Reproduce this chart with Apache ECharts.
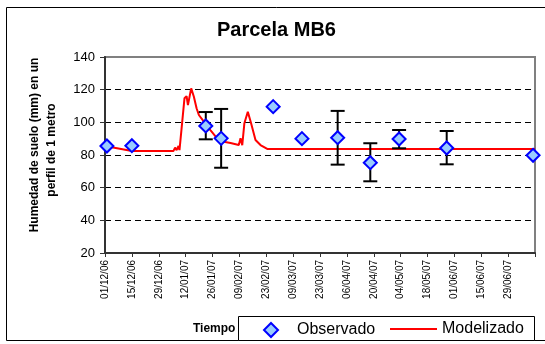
<!DOCTYPE html>
<html>
<head>
<meta charset="utf-8">
<script src="https://cdn.jsdelivr.net/npm/echarts@6/dist/echarts.min.js"></script>
<style>
  html, body { margin: 0; padding: 0; background: #fff; }
  #chart { width: 545px; height: 344px; }
</style>
</head>
<body>
<div id="chart"></div>
<script>
// days counted from 01/12/06, one tick every 14 days
const tickLabels = ['01/12/06', '15/12/06', '29/12/06', '12/01/07', '26/01/07', '09/02/07',
  '23/02/07', '09/03/07', '23/03/07', '06/04/07', '20/04/07', '04/05/07', '18/05/07',
  '01/06/07', '15/06/07', '29/06/07', ''];

const obsDays = [1, 14, 52.5, 60.5, 87.6, 102.6, 121.2, 138.2, 153.2, 178, 223];
const obsValues = [85.5, 85.7, 97.8, 90.2, 109.6, 90, 90.6, 75.3, 89.8, 84.3, 79.8];
const obsLow = [null, null, 89.6, 72.2, null, null, 74.1, 63.9, 84.1, 74.3, null];
const obsHigh = [null, null, 106.3, 108.2, null, null, 107, 87.2, 95.3, 94.7, null];

const modelDays = [0, 7, 14, 20, 30, 35.7, 36.5, 37.3, 38.3, 38.8, 39.4, 40.2, 41.4, 42.5,
  43.2, 44.9, 46.3, 47.7, 48.9, 51.5, 54.9, 58.4, 61.9, 65.4, 69.7, 70.6, 71.5, 72.6, 74.4,
  76.1, 78.4, 81, 84.5, 120, 170, 224];
const modelValues = [85.5, 84, 82.5, 82.5, 82.5, 82.5, 84.5, 83, 85.5, 83, 84, 100, 114.7, 116,
  110.6, 120.8, 115.7, 108.6, 104.5, 100.4, 95.3, 90.2, 88.1, 87.3, 86.1, 90.2, 86, 99.4, 106.5,
  99.4, 89.2, 86.1, 83.7, 83.7, 83.7, 83.7];

const font = "'Liberation Sans', Arial, sans-serif";

const obsData = obsDays.map((d, i) => [d, obsValues[i]]);
const modelData = modelDays.map((d, i) => [d, modelValues[i]]);
const errData = [];
obsDays.forEach((d, i) => {
  if (obsLow[i] != null) errData.push([d, obsLow[i], obsHigh[i]]);
});

const chart = echarts.init(document.getElementById('chart'), null, {renderer: 'canvas'});
const option = {
  backgroundColor: '#ffffff',
  animation: false,
  title: {
    text: 'Parcela MB6',
    left: 217,
    top: 20,
    padding: 0,
    textStyle: {fontFamily: font, fontSize: 20, fontWeight: 'bold', color: '#000'}
  },
  grid: {
    left: 105, right: 10, top: 57, bottom: 91,
    show: true, borderColor: '#808080', borderWidth: 2
  },
  legend: [
    {
      data: ['Observado'],
      left: 263, top: 322, padding: 0,
      itemWidth: 14, itemHeight: 14,
      textStyle: {fontFamily: font, fontSize: 16, color: '#000', padding: [0, 0, 0, 14]}
    },
    {
      data: [{name: 'Modelizado', icon: 'rect'}],
      left: 390, top: 321, padding: 0,
      itemWidth: 47, itemHeight: 2,
      textStyle: {fontFamily: font, fontSize: 16, color: '#000'}
    }
  ],
  xAxis: {
    type: 'value',
    min: 0, max: 224, interval: 14,
    axisLine: {lineStyle: {color: '#333', width: 2}},
    axisTick: {length: 4, lineStyle: {color: '#333', width: 1}},
    axisLabel: {
      rotate: 90, fontFamily: font, fontSize: 10, color: '#000', margin: 7,
      showMaxLabel: true,
      formatter: v => tickLabels[Math.round(v / 14)] || ''
    },
    splitLine: {show: false}
  },
  yAxis: {
    type: 'value',
    min: 20, max: 140, interval: 20,
    axisLine: {show: true, lineStyle: {color: '#333', width: 2}},
    axisTick: {show: true, length: 5, lineStyle: {color: '#333', width: 1}},
    axisLabel: {fontFamily: font, fontSize: 13, color: '#000', margin: 10},
    splitLine: {
      show: true, showMinLine: false, showMaxLine: false,
      lineStyle: {color: '#000', width: 1, type: [6, 4]}
    }
  },
  graphic: [
    {
      type: 'rect', z: -10, silent: true,
      shape: {x: 6.5, y: 7.5, width: 545, height: 333},
      style: {fill: 'none', stroke: '#000', lineWidth: 1}
    },
    {
      type: 'text', x: 35, y: 145, rotation: Math.PI / 2,
      style: {text: 'Humedad de suelo (mm) en un', font: 'bold 12px ' + font,
        fill: '#000', align: 'center', verticalAlign: 'middle'}
    },
    {
      type: 'text', x: 52, y: 150, rotation: Math.PI / 2,
      style: {text: 'perfil de 1 metro', font: 'bold 12px ' + font,
        fill: '#000', align: 'center', verticalAlign: 'middle'}
    },
    {
      type: 'text', x: 193, y: 329,
      style: {text: 'Tiempo', font: 'bold 12px ' + font, fill: '#000',
        align: 'left', verticalAlign: 'middle'}
    },
    {
      type: 'rect', z: 3, silent: true,
      shape: {x: 238.5, y: 316.5, width: 296, height: 24},
      style: {fill: '#fff', stroke: '#000', lineWidth: 1}
    }
  ],
  series: [
    {
      name: 'Modelizado',
      type: 'line',
      data: modelData,
      symbol: 'none',
      z: 2,
      lineStyle: {color: '#ff0000', width: 2},
      itemStyle: {color: '#ff0000'}
    },
    {
      name: 'errores',
      type: 'custom',
      data: errData,
      z: 3,
      renderItem: function (params, api) {
        const x = api.coord([api.value(0), api.value(1)])[0];
        const yLo = api.coord([api.value(0), api.value(1)])[1];
        const yHi = api.coord([api.value(0), api.value(2)])[1];
        const w = 7;
        const st = {stroke: '#000', lineWidth: 2};
        return {
          type: 'group',
          children: [
            {type: 'line', shape: {x1: x, y1: yLo, x2: x, y2: yHi}, style: st},
            {type: 'line', shape: {x1: x - w, y1: yLo, x2: x + w, y2: yLo}, style: st},
            {type: 'line', shape: {x1: x - w, y1: yHi, x2: x + w, y2: yHi}, style: st}
          ]
        };
      }
    },
    {
      name: 'Observado',
      type: 'scatter',
      data: obsData,
      symbol: 'diamond',
      symbolSize: 13,
      z: 4,
      clip: false,
      itemStyle: {color: '#99ccff', borderColor: '#0000ff', borderWidth: 2, opacity: 1}
    }
  ]
};
chart.setOption(option);
</script>
</body>
</html>
